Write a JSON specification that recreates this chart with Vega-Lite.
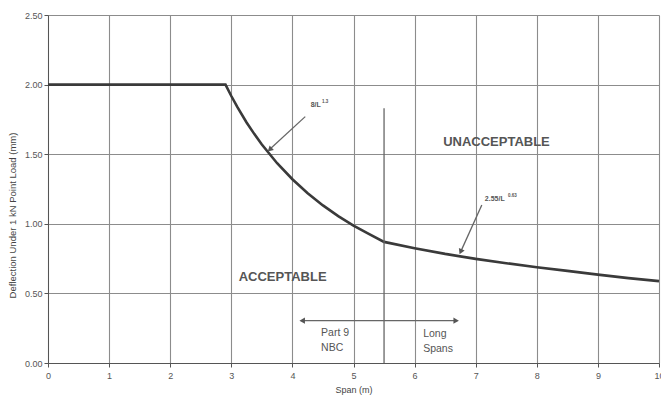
{
  "$schema": "https://vega.github.io/schema/vega-lite/v6.json",
  "width": 611,
  "height": 348,
  "autosize": {"type": "none"},
  "padding": {"left": 48, "top": 15, "right": 2, "bottom": 37},
  "background": "white",
  "config": {"font": "Liberation Sans", "view": {"stroke": null}},
  "datasets": {
    "curve": [
      {"span": 0, "deflection": 2.0},
      {"span": 2.905, "deflection": 2.0},
      {"span": 3.0, "deflection": 1.918},
      {"span": 3.1, "deflection": 1.838},
      {"span": 3.25, "deflection": 1.728},
      {"span": 3.375, "deflection": 1.646},
      {"span": 3.5, "deflection": 1.570},
      {"span": 3.75, "deflection": 1.435},
      {"span": 4.0, "deflection": 1.320},
      {"span": 4.25, "deflection": 1.220},
      {"span": 4.5, "deflection": 1.132},
      {"span": 4.75, "deflection": 1.055},
      {"span": 5.0, "deflection": 0.987},
      {"span": 5.25, "deflection": 0.927},
      {"span": 5.5, "deflection": 0.870},
      {"span": 6.0, "deflection": 0.825},
      {"span": 6.5, "deflection": 0.784},
      {"span": 7.0, "deflection": 0.748},
      {"span": 7.5, "deflection": 0.717},
      {"span": 8.0, "deflection": 0.688},
      {"span": 8.5, "deflection": 0.662},
      {"span": 9.0, "deflection": 0.635},
      {"span": 9.5, "deflection": 0.610},
      {"span": 10.0, "deflection": 0.588}
    ],
    "lines": [
      {"id": "divider", "x": 5.5, "y": 0, "x2": 5.5, "y2": 1.83},
      {"id": "range", "x": 4.16, "y": 0.304, "x2": 6.68, "y2": 0.304},
      {"id": "arrow1", "x": 4.21, "y": 1.77, "x2": 3.63, "y2": 1.535},
      {"id": "arrow2", "x": 7.10, "y": 1.135, "x2": 6.755, "y2": 0.80}
    ],
    "heads": [
      {"id": "left", "x": 4.16, "y": 0.304},
      {"id": "right", "x": 6.68, "y": 0.304},
      {"id": "a1", "x": 3.64, "y": 1.537},
      {"id": "a2", "x": 6.76, "y": 0.805}
    ],
    "labels": [
      {"role": "region", "x": 3.84, "y": 0.618, "text": "ACCEPTABLE"},
      {"role": "region", "x": 7.34, "y": 1.588, "text": "UNACCEPTABLE"},
      {"role": "span", "x": 4.47, "y": 0.215, "text": "Part 9"},
      {"role": "span", "x": 4.47, "y": 0.108, "text": "NBC"},
      {"role": "span", "x": 6.14, "y": 0.205, "text": "Long"},
      {"role": "span", "x": 6.14, "y": 0.103, "text": "Spans"},
      {"role": "note", "x": 4.30, "y": 1.85, "text": "8/L"},
      {"role": "sup", "x": 4.485, "y": 1.872, "text": "1.3"},
      {"role": "note", "x": 7.15, "y": 1.18, "text": "2.55/L"},
      {"role": "sup", "x": 7.53, "y": 1.197, "text": "0.63"}
    ]
  },
  "layer": [
    {
      "data": {"name": "curve"},
      "mark": {"type": "line", "color": "#3a3a3a", "strokeWidth": 2.6},
      "encoding": {
        "x": {
          "field": "span", "type": "quantitative",
          "scale": {"domain": [0, 10], "nice": false, "zero": false},
          "axis": {
            "values": [0, 1, 2, 3, 4, 5, 6, 7, 8, 9, 10],
            "format": "d",
            "labelFlush": false,
            "title": "Span (m)",
            "grid": true, "gridColor": "#8c8c8c", "gridWidth": 1.1,
            "domainColor": "#555", "tickColor": "#555", "tickSize": 4,
            "labelFontSize": 9, "labelColor": "#555", "labelPadding": 4,
            "titleFontSize": 9, "titleFontWeight": "normal", "titleColor": "#444", "titlePadding": 5
          }
        },
        "y": {
          "field": "deflection", "type": "quantitative",
          "scale": {"domain": [0, 2.5], "nice": false},
          "axis": {
            "values": [0, 0.5, 1, 1.5, 2, 2.5],
            "format": ".2f",
            "labelFlush": false,
            "title": "Deflection Under 1 kN Point Load (mm)",
            "grid": true, "gridColor": "#8c8c8c", "gridWidth": 1.1,
            "domainColor": "#555", "tickColor": "#555", "tickSize": 4,
            "labelFontSize": 9, "labelColor": "#555", "labelPadding": 2,
            "titleFontSize": 9.5, "titleFontWeight": "normal", "titleColor": "#444",
            "titleX": -31, "titleY": 200
          }
        }
      }
    },
    {
      "data": {"name": "lines"},
      "mark": {"type": "rule", "color": "#666", "strokeWidth": 1.3},
      "encoding": {
        "x": {"field": "x", "type": "quantitative"},
        "y": {"field": "y", "type": "quantitative"},
        "x2": {"field": "x2"},
        "y2": {"field": "y2"}
      }
    },
    {
      "data": {"name": "heads"},
      "transform": [{"filter": "datum.id == 'left'"}],
      "mark": {"type": "point", "shape": "triangle-left", "filled": true, "color": "#555", "size": 40, "opacity": 1},
      "encoding": {"x": {"field": "x", "type": "quantitative"}, "y": {"field": "y", "type": "quantitative"}}
    },
    {
      "data": {"name": "heads"},
      "transform": [{"filter": "datum.id == 'right'"}],
      "mark": {"type": "point", "shape": "triangle-right", "filled": true, "color": "#555", "size": 40, "opacity": 1},
      "encoding": {"x": {"field": "x", "type": "quantitative"}, "y": {"field": "y", "type": "quantitative"}}
    },
    {
      "data": {"name": "heads"},
      "transform": [{"filter": "datum.id == 'a1'"}],
      "mark": {"type": "point", "shape": "triangle", "filled": true, "color": "#555", "size": 40, "opacity": 1, "angle": 227},
      "encoding": {"x": {"field": "x", "type": "quantitative"}, "y": {"field": "y", "type": "quantitative"}}
    },
    {
      "data": {"name": "heads"},
      "transform": [{"filter": "datum.id == 'a2'"}],
      "mark": {"type": "point", "shape": "triangle", "filled": true, "color": "#555", "size": 40, "opacity": 1, "angle": 204},
      "encoding": {"x": {"field": "x", "type": "quantitative"}, "y": {"field": "y", "type": "quantitative"}}
    },
    {
      "data": {"name": "labels"},
      "transform": [{"filter": "datum.role == 'region'"}],
      "mark": {"type": "text", "fontSize": 13, "fontWeight": "bold", "color": "#555", "align": "center", "baseline": "middle"},
      "encoding": {"x": {"field": "x", "type": "quantitative"}, "y": {"field": "y", "type": "quantitative"}, "text": {"field": "text"}}
    },
    {
      "data": {"name": "labels"},
      "transform": [{"filter": "datum.role == 'span'"}],
      "mark": {"type": "text", "fontSize": 10.5, "color": "#555", "align": "left", "baseline": "middle"},
      "encoding": {"x": {"field": "x", "type": "quantitative"}, "y": {"field": "y", "type": "quantitative"}, "text": {"field": "text"}}
    },
    {
      "data": {"name": "labels"},
      "transform": [{"filter": "datum.role == 'note'"}],
      "mark": {"type": "text", "fontSize": 7, "fontWeight": "bold", "color": "#555", "align": "left", "baseline": "middle"},
      "encoding": {"x": {"field": "x", "type": "quantitative"}, "y": {"field": "y", "type": "quantitative"}, "text": {"field": "text"}}
    },
    {
      "data": {"name": "labels"},
      "transform": [{"filter": "datum.role == 'sup'"}],
      "mark": {"type": "text", "fontSize": 4.5, "fontWeight": "bold", "color": "#555", "align": "left", "baseline": "middle"},
      "encoding": {"x": {"field": "x", "type": "quantitative"}, "y": {"field": "y", "type": "quantitative"}, "text": {"field": "text"}}
    }
  ]
}
